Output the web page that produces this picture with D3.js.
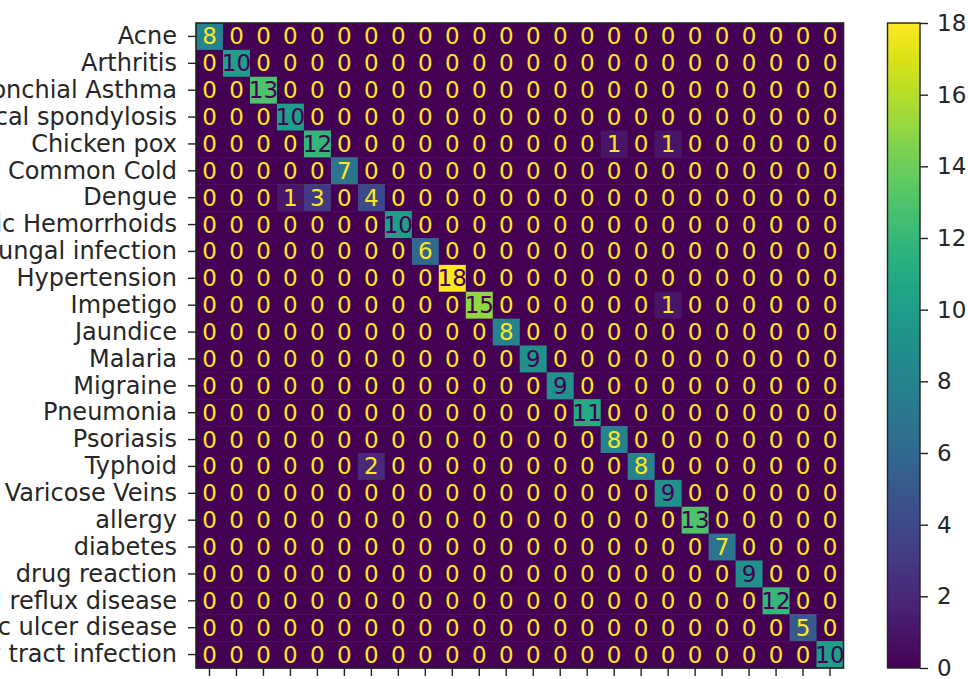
<!DOCTYPE html>
<html>
<head>
<meta charset="utf-8">
<script src="https://cdn.jsdelivr.net/npm/d3@7"></script>
<style>
  html, body { margin: 0; padding: 0; background: #fff; }
  svg { display: block; font-family: "DejaVu Sans", sans-serif; }
</style>
</head>
<body>
<svg id="chart" width="968" height="679"></svg>
<script>
// ---- data ----
const categories = [
  "Acne", "Arthritis", "Bronchial Asthma", "Cervical spondylosis", "Chicken pox",
  "Common Cold", "Dengue", "Dimorphic Hemorrhoids", "Fungal infection", "Hypertension",
  "Impetigo", "Jaundice", "Malaria", "Migraine", "Pneumonia", "Psoriasis", "Typhoid",
  "Varicose Veins", "allergy", "diabetes", "drug reaction",
  "gastroesophageal reflux disease", "peptic ulcer disease", "urinary tract infection"
];
const diagonalValues = [8, 10, 13, 10, 12, 7, 4, 10, 6, 18, 15, 8, 9, 9, 11, 8, 8, 9, 13, 7, 9, 12, 5, 10];
// off-diagonal entries: [true row index, predicted column index, count]
const offDiagonal = [
  [4, 15, 1], [4, 17, 1],
  [6, 3, 1], [6, 4, 3],
  [10, 17, 1],
  [16, 6, 2]
];
const colorbarTicks = [0, 2, 4, 6, 8, 10, 12, 14, 16, 18];

// ---- build matrix ----
const n = categories.length;
const matrix = categories.map((_, i) => categories.map((_, j) => (i === j ? diagonalValues[i] : 0)));
offDiagonal.forEach(([r, c, v]) => { matrix[r][c] = v; });
const cells = [];
matrix.forEach((row, i) => row.forEach((v, j) => cells.push({ row: i, col: j, value: v })));

const vmin = 0, vmax = d3.max(cells, d => d.value);
const thresh = (vmin + vmax) / 2;

// ---- layout ----
const svg = d3.select("#chart");
const plot = { left: 196, top: 23, right: 843.5, bottom: 668 };
const fontSize = 23;
const labelSize = 24;
const textColor = "#262626";

const x = d3.scaleBand().domain(d3.range(n)).range([plot.left, plot.right]).padding(0);
const y = d3.scaleBand().domain(d3.range(n)).range([plot.top, plot.bottom]).padding(0);
const color = d3.scaleSequential(d3.interpolateViridis).domain([vmin, vmax]);

// cells
svg.append("g").selectAll("rect").data(cells).join("rect")
  .attr("x", d => x(d.col))
  .attr("y", d => y(d.row))
  .attr("width", x.bandwidth() + 0.5)
  .attr("height", y.bandwidth() + 0.5)
  .attr("fill", d => color(d.value));

// cell text
svg.append("g").selectAll("text").data(cells).join("text")
  .attr("x", d => x(d.col) + x.bandwidth() / 2)
  .attr("y", d => y(d.row) + y.bandwidth() / 2)
  .attr("text-anchor", "middle")
  .attr("dominant-baseline", "central")
  .attr("font-size", fontSize)
  .attr("fill", d => d.value < thresh ? d3.interpolateViridis(1) : d3.interpolateViridis(0))
  .text(d => d.value);

// frame
svg.append("rect")
  .attr("x", plot.left).attr("y", plot.top)
  .attr("width", plot.right - plot.left).attr("height", plot.bottom - plot.top)
  .attr("fill", "none").attr("stroke", "#222").attr("stroke-width", 1.6);

// y axis
const yAxis = svg.append("g")
  .attr("transform", `translate(${plot.left},0)`)
  .call(d3.axisLeft(y).tickSize(8).tickPadding(11).tickFormat(i => categories[i]));
yAxis.select(".domain").remove();
yAxis.selectAll("text").attr("font-size", labelSize).attr("fill", textColor).attr("font-family", "DejaVu Sans");
yAxis.selectAll("line").attr("stroke", "#222").attr("stroke-width", 1.4);

// x axis (tick marks only, labels fall below the visible area)
const xAxis = svg.append("g")
  .attr("transform", `translate(0,${plot.bottom})`)
  .call(d3.axisBottom(x).tickSize(8).tickFormat(""));
xAxis.select(".domain").remove();
xAxis.selectAll("line").attr("stroke", "#222").attr("stroke-width", 1.4);

// ---- colorbar ----
const cb = { left: 887.5, right: 920, top: 23, bottom: 668 };
const defs = svg.append("defs");
const grad = defs.append("linearGradient").attr("id", "viridisGrad")
  .attr("x1", 0).attr("y1", 1).attr("x2", 0).attr("y2", 0);
d3.range(0, 1.0001, 0.02).forEach(t => {
  grad.append("stop").attr("offset", t).attr("stop-color", d3.interpolateViridis(t));
});
svg.append("rect")
  .attr("x", cb.left).attr("y", cb.top)
  .attr("width", cb.right - cb.left).attr("height", cb.bottom - cb.top)
  .attr("fill", "url(#viridisGrad)")
  .attr("stroke", "#222").attr("stroke-width", 1.4);

const cbScale = d3.scaleLinear().domain([vmin, vmax]).range([cb.bottom, cb.top]);
const cbAxis = svg.append("g")
  .attr("transform", `translate(${cb.right},0)`)
  .call(d3.axisRight(cbScale).tickValues(colorbarTicks).tickSize(8).tickPadding(9));
cbAxis.select(".domain").remove();
cbAxis.selectAll("text").attr("font-size", fontSize).attr("fill", textColor).attr("font-family", "DejaVu Sans");
cbAxis.selectAll("line").attr("stroke", "#222").attr("stroke-width", 1.4);
</script>
</body>
</html>
